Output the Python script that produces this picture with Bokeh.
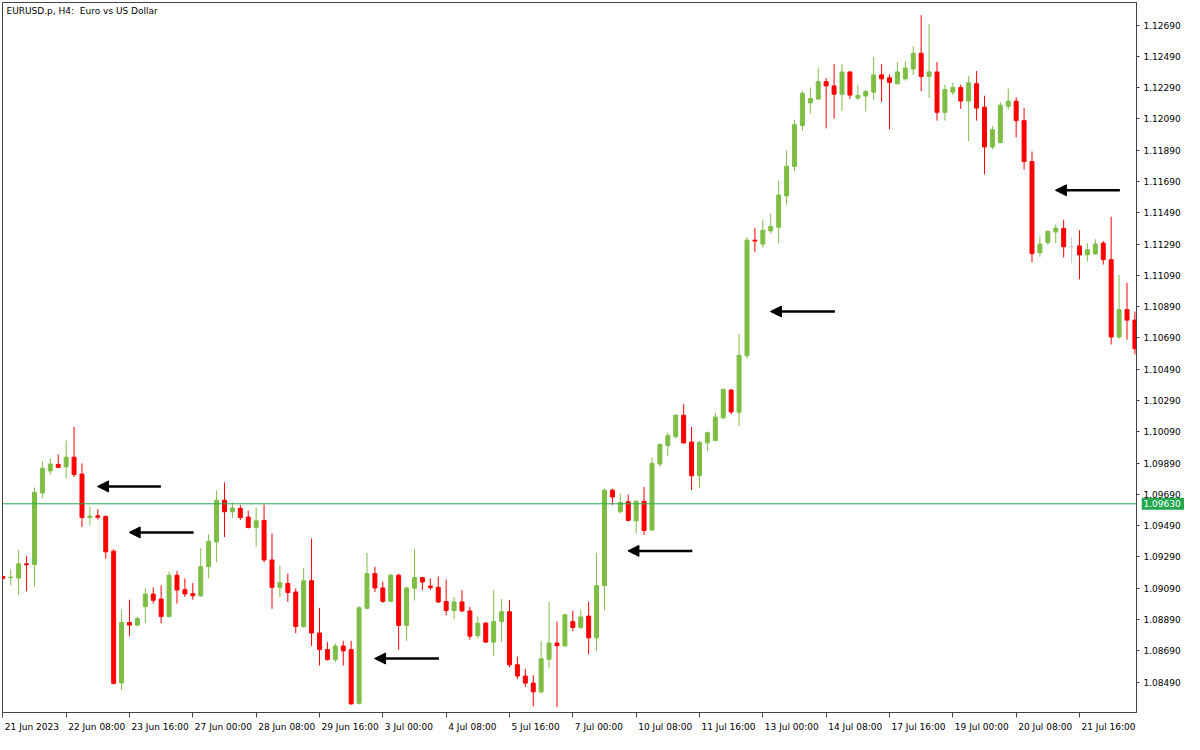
from bokeh.plotting import figure
from bokeh.layouts import column, row
from bokeh.models import (ColumnDataSource, Range1d, FixedTicker, CustomJSTickFormatter,
                          Span, Label, Arrow, NormalHead)
from bokeh.core.properties import value
from bokeh.embed import file_html
from bokeh.resources import INLINE

# ---------------- data (EURUSD.p, H4) ----------------
title_text = "EURUSD.p, H4:\u00a0 Euro vs US Dollar"

open_ = [
    1.09165, 1.09158, 1.09155, 1.09246, 1.09241, 1.09699, 1.09840, 1.09882, 1.09866, 1.09928,
    1.09820, 1.09543, 1.09553, 1.09548, 1.09327, 1.08485, 1.08871, 1.08855, 1.08973, 1.09053,
    1.09021, 1.08909, 1.09173, 1.09081, 1.09056, 1.09042, 1.09228, 1.09386, 1.09653, 1.09579,
    1.09600, 1.09545, 1.09479, 1.09524, 1.09271, 1.09096, 1.09121, 1.09066, 1.08846, 1.09138,
    1.08804, 1.08698, 1.08634, 1.08721, 1.08698, 1.08355, 1.08962, 1.09184, 1.09092, 1.09007,
    1.09173, 1.08853, 1.09090, 1.09159, 1.09104, 1.09096, 1.09006, 1.08948, 1.09003, 1.08945,
    1.08788, 1.08867, 1.08746, 1.08877, 1.08940, 1.08601, 1.08529, 1.08484, 1.08428, 1.08636,
    1.08740, 1.08721, 1.08877, 1.08840, 1.08912, 1.08773, 1.09107, 1.09717, 1.09579, 1.09643,
    1.09521, 1.09646, 1.09463, 1.09884, 1.10003, 1.10059, 1.10196, 1.10025, 1.09809, 1.10020,
    1.10034, 1.10180, 1.10357, 1.10215, 1.10577, 1.11315, 1.11290, 1.11374, 1.11398, 1.11598,
    1.11786, 1.12048, 1.12192, 1.12217, 1.12328, 1.12301, 1.12248, 1.12390, 1.12223, 1.12236,
    1.12261, 1.12371, 1.12353, 1.12315, 1.12346, 1.12409, 1.12509, 1.12361, 1.12390, 1.12132,
    1.12261, 1.12290, 1.12204, 1.12315, 1.12165, 1.11911, 1.11938, 1.12171, 1.12203, 1.12079,
    1.11817, 1.11235, 1.11300, 1.11367, 1.11390, 1.11273, 1.11278, 1.11221, 1.11227, 1.11296,
    1.11190, 1.10696, 1.10871, 1.10804,
]
high = [
    1.09171, 1.09209, 1.09334, 1.09296, 1.09734, 1.09903, 1.09921, 1.09946, 1.10034, 1.10121,
    1.09888, 1.09615, 1.09596, 1.09557, 1.09340, 1.08953, 1.09017, 1.08909, 1.09090, 1.09096,
    1.09109, 1.09196, 1.09202, 1.09153, 1.09123, 1.09346, 1.09434, 1.09715, 1.09767, 1.09638,
    1.09622, 1.09586, 1.09605, 1.09626, 1.09440, 1.09234, 1.09184, 1.09090, 1.09217, 1.09409,
    1.08965, 1.08746, 1.08738, 1.08754, 1.08754, 1.08976, 1.09315, 1.09228, 1.09132, 1.09184,
    1.09184, 1.09100, 1.09340, 1.09162, 1.09153, 1.09165, 1.09146, 1.09034, 1.09078, 1.08971,
    1.08911, 1.08875, 1.09078, 1.09021, 1.09015, 1.08653, 1.08575, 1.08534, 1.08754, 1.09003,
    1.08877, 1.08923, 1.08946, 1.08951, 1.09003, 1.09315, 1.09727, 1.09727, 1.09696, 1.09690,
    1.09653, 1.09738, 1.09926, 1.10015, 1.10086, 1.10202, 1.10267, 1.10121, 1.10030, 1.10092,
    1.10211, 1.10367, 1.10363, 1.10715, 1.11334, 1.11394, 1.11446, 1.11484, 1.11696, 1.11888,
    1.12084, 1.12269, 1.12290, 1.12419, 1.12351, 1.12440, 1.12440, 1.12393, 1.12307, 1.12278,
    1.12484, 1.12440, 1.12376, 1.12453, 1.12459, 1.12553, 1.12753, 1.12696, 1.12453, 1.12309,
    1.12321, 1.12309, 1.12365, 1.12396, 1.12238, 1.12044, 1.12196, 1.12284, 1.12228, 1.12159,
    1.11882, 1.11340, 1.11378, 1.11415, 1.11446, 1.11334, 1.11378, 1.11296, 1.11321, 1.11309,
    1.11465, 1.11092, 1.11042, 1.10859,
]
low = [
    1.09146, 1.09109, 1.09046, 1.09071, 1.09103, 1.09667, 1.09817, 1.09859, 1.09792, 1.09801,
    1.09482, 1.09492, 1.09528, 1.09279, 1.08476, 1.08440, 1.08784, 1.08846, 1.08867, 1.08992,
    1.08865, 1.08903, 1.08992, 1.09034, 1.09017, 1.09034, 1.09154, 1.09257, 1.09417, 1.09539,
    1.09526, 1.09472, 1.09354, 1.09257, 1.08959, 1.09034, 1.09003, 1.08803, 1.08836, 1.08721,
    1.08596, 1.08628, 1.08617, 1.08596, 1.08346, 1.08348, 1.08955, 1.09065, 1.08996, 1.09001,
    1.08698, 1.08754, 1.09011, 1.09079, 1.09079, 1.08996, 1.08917, 1.08892, 1.08940, 1.08761,
    1.08767, 1.08742, 1.08659, 1.08746, 1.08584, 1.08509, 1.08459, 1.08336, 1.08417, 1.08579,
    1.08330, 1.08717, 1.08817, 1.08829, 1.08668, 1.08690, 1.08951, 1.09623, 1.09569, 1.09517,
    1.09440, 1.09430, 1.09459, 1.09867, 1.09934, 1.10048, 1.10015, 1.09717, 1.09729, 1.09967,
    1.10030, 1.10170, 1.10201, 1.10128, 1.10559, 1.11238, 1.11267, 1.11357, 1.11294, 1.11542,
    1.11757, 1.12013, 1.12123, 1.12211, 1.12029, 1.12092, 1.12142, 1.12217, 1.12211, 1.12138,
    1.12211, 1.12198, 1.12023, 1.12309, 1.12334, 1.12371, 1.12267, 1.12223, 1.12079, 1.12079,
    1.12242, 1.12154, 1.11948, 1.12079, 1.11736, 1.11894, 1.11934, 1.12148, 1.11971, 1.11767,
    1.11173, 1.11209, 1.11284, 1.11296, 1.11204, 1.11165, 1.11065, 1.11179, 1.11221, 1.11159,
    1.10648, 1.10684, 1.10679, 1.10584,
]
close = [
    1.09153, 1.09162, 1.09246, 1.09240, 1.09703, 1.09857, 1.09884, 1.09863, 1.09928, 1.09817,
    1.09542, 1.09551, 1.09544, 1.09323, 1.08482, 1.08871, 1.08855, 1.08896, 1.09053, 1.09013,
    1.08909, 1.09173, 1.09079, 1.09054, 1.09042, 1.09228, 1.09390, 1.09653, 1.09579, 1.09603,
    1.09542, 1.09479, 1.09521, 1.09271, 1.09096, 1.09126, 1.09063, 1.08846, 1.09138, 1.08804,
    1.08698, 1.08634, 1.08721, 1.08690, 1.08351, 1.08965, 1.09184, 1.09092, 1.09007, 1.09173,
    1.08853, 1.09092, 1.09159, 1.09130, 1.09094, 1.09003, 1.08948, 1.09003, 1.08945, 1.08784,
    1.08867, 1.08746, 1.08877, 1.08940, 1.08601, 1.08529, 1.08484, 1.08428, 1.08640, 1.08740,
    1.08723, 1.08921, 1.08840, 1.08907, 1.08773, 1.09107, 1.09717, 1.09673, 1.09638, 1.09524,
    1.09646, 1.09459, 1.09888, 1.10009, 1.10065, 1.10196, 1.10019, 1.09809, 1.10023, 1.10084,
    1.10184, 1.10361, 1.10217, 1.10579, 1.11315, 1.11309, 1.11378, 1.11403, 1.11603, 1.11788,
    1.12053, 1.12253, 1.12221, 1.12328, 1.12301, 1.12248, 1.12390, 1.12242, 1.12240, 1.12265,
    1.12371, 1.12346, 1.12323, 1.12390, 1.12415, 1.12509, 1.12361, 1.12390, 1.12132, 1.12278,
    1.12290, 1.12204, 1.12321, 1.12159, 1.11911, 1.12021, 1.12178, 1.12203, 1.12079, 1.11817,
    1.11229, 1.11290, 1.11371, 1.11392, 1.11273, 1.11273, 1.11221, 1.11253, 1.11290, 1.11190,
    1.10696, 1.10871, 1.10804, 1.10621,
]

# time axis: bar index of each labelled bar and its label
x_tick_bars = [0, 8, 16, 24, 32, 40, 48, 56, 64, 72, 80, 88, 96, 104, 112, 120, 128, 136]
x_tick_labels = ["21 Jun 2023", "22 Jun 08:00", "23 Jun 16:00", "27 Jun 00:00", "28 Jun 08:00",
                 "29 Jun 16:00", "3 Jul 00:00", "4 Jul 08:00", "5 Jul 16:00", "7 Jul 00:00",
                 "10 Jul 08:00", "11 Jul 16:00", "13 Jul 00:00", "14 Jul 08:00", "17 Jul 16:00",
                 "19 Jul 00:00", "20 Jul 08:00", "21 Jul 16:00"]
y_ticks = [1.08490, 1.08690, 1.08890, 1.09090, 1.09290, 1.09490, 1.09690, 1.09890, 1.10090,
           1.10290, 1.10490, 1.10690, 1.10890, 1.11090, 1.11290, 1.11490, 1.11690, 1.11890,
           1.12090, 1.12290, 1.12490, 1.12690]
y_tick_labels = ["1.08490", "1.08690", "1.08890", "1.09090", "1.09290", "1.09490", "1.09690",
                 "1.09890", "1.10090", "1.10290", "1.10490", "1.10690", "1.10890", "1.11090",
                 "1.11290", "1.11490", "1.11690", "1.11890", "1.12090", "1.12290", "1.12490",
                 "1.12690"]
bid_price = 1.09630
bid_text = "1.09630"

# drawn arrows (bar index / price of tail and head)
arrow_x_tail = [19.96, 24.10, 55.10, 87.10, 105.10, 141.10]
arrow_x_head = [11.96, 15.96, 46.96, 78.96, 96.96, 132.96]
arrow_y = [1.09741, 1.09447, 1.08641, 1.09329, 1.10859, 1.11634]

# ---------------- styling / layout ----------------
UP = "#7EBE45"
DOWN = "#FF0000"
FLAT = "#C9C9C9"
FRAME = "#444444"
BID = "#22A94F"
FONT = "DejaVu Sans"
FS = "9px"

X0, X1 = -0.04, 143.2          # visible bar range
Y0, Y1 = 1.08296, 1.12834      # visible price range
MAIN_W, MAIN_H = 1141, 719
B_LEFT, B_RIGHT, B_TOP, B_BOTTOM = 2, 5, 2, 7
STRIP_W = 1184 - MAIN_W        # price-label column
XSTRIP_H = 734 - MAIN_H        # time-label row
main_frame_w = MAIN_W - B_LEFT - B_RIGHT
xstrip_frame_w = 1184 - B_LEFT
bars_per_px = (X1 - X0) / main_frame_w

n = min(len(open_), len(high), len(low), len(close))
xs = list(range(n))
colors = [UP if close[i] > open_[i] else (DOWN if close[i] < open_[i] else FLAT) for i in xs]
src = ColumnDataSource(dict(
    x=xs,
    top=[max(open_[i], close[i]) for i in xs],
    bottom=[min(open_[i], close[i]) for i in xs],
    high=high[:n], low=low[:n], color=colors,
))

y_range = Range1d(Y0, Y1)
p = figure(width=MAIN_W, height=MAIN_H, output_backend="svg", toolbar_location=None,
           x_range=Range1d(X0, X1), y_range=y_range,
           y_axis_location="right", x_axis_location="below",
           min_border_left=B_LEFT, min_border_top=B_TOP, min_border_right=B_RIGHT,
           min_border_bottom=B_BOTTOM,
           background_fill_color="white", border_fill_color="white")
p.outline_line_color = FRAME
p.outline_line_width = 1
p.xgrid.visible = False
p.ygrid.visible = False

blank = CustomJSTickFormatter(code="return ''")
for ax, ticks, tick_len in ((p.xaxis[0], x_tick_bars, 5), (p.yaxis[0], y_ticks, 3)):
    ax.ticker = FixedTicker(ticks=ticks)
    ax.formatter = blank
    ax.axis_line_color = FRAME
    ax.major_tick_line_color = FRAME
    ax.major_tick_out = tick_len
    ax.major_tick_in = 0
    ax.minor_tick_line_color = None
    ax.major_label_standoff = 0
    ax.major_label_text_font_size = "0px"

# candles
p.segment(x0="x", y0="high", x1="x", y1="low", line_color="color", line_width=1, source=src)
p.vbar(x="x", width=0.5, top="top", bottom="bottom", fill_color="color",
       line_color="color", line_width=1, source=src)

# bid line
p.add_layout(Span(location=bid_price, dimension="width", line_color=BID, line_width=1))

# arrows
asrc = ColumnDataSource(dict(x0=arrow_x_tail, x1=arrow_x_head, y=arrow_y))
p.add_layout(Arrow(end=NormalHead(size=11, fill_color="black", line_color="black"),
                   x_start="x0", y_start="y", x_end="x1", y_end="y",
                   line_color="black", line_width=2.5, source=asrc))

# chart caption
p.add_layout(Label(x=4, y=MAIN_H - B_TOP - B_BOTTOM - 3, x_units="screen", y_units="screen",
                   text=title_text, text_font=FONT, text_font_size=FS, text_color="black",
                   text_baseline="top"))

# price scale column (shares the price range with the chart)
ys = figure(width=STRIP_W, height=MAIN_H, output_backend="svg", toolbar_location=None,
            x_range=Range1d(0, STRIP_W), y_range=y_range, x_axis_location=None,
            y_axis_location=None, min_border_left=0, min_border_right=0,
            min_border_top=B_TOP, min_border_bottom=B_BOTTOM,
            background_fill_color="white", border_fill_color="white")
ys.outline_line_color = None
ys.grid.visible = False
ys.rect(x=[STRIP_W / 2], y=[bid_price], width=STRIP_W, height=12, height_units="screen",
        fill_color=BID, line_color=None)
ys.text(x=[2] * len(y_ticks), y=y_ticks, text=y_tick_labels, text_font=value(FONT),
        text_font_size=value(FS), text_color="black", text_align="left",
        text_baseline="middle")
ys.text(x=[2], y=[bid_price], text=[bid_text], text_font=value(FONT),
        text_font_size=value(FS), text_color="white", text_align="left",
        text_baseline="middle")

# time scale row (same bar scale as the chart, wider so the last label fits)
xsr = figure(width=1184, height=XSTRIP_H, output_backend="svg", toolbar_location=None,
             x_range=Range1d(X0, X0 + xstrip_frame_w * bars_per_px),
             y_range=Range1d(0, XSTRIP_H), x_axis_location=None, y_axis_location=None,
             min_border_left=B_LEFT, min_border_right=0, min_border_top=0,
             min_border_bottom=0, background_fill_color="white", border_fill_color="white")
xsr.outline_line_color = None
xsr.grid.visible = False
xsr.text(x=x_tick_bars, y=[XSTRIP_H / 2] * len(x_tick_bars), text=x_tick_labels, x_offset=2,
         text_font=value(FONT), text_font_size=value(FS), text_color="black",
         text_align="left", text_baseline="middle")

layout = column(row(p, ys), xsr)
open("out.html", "w").write(file_html(layout, INLINE))
